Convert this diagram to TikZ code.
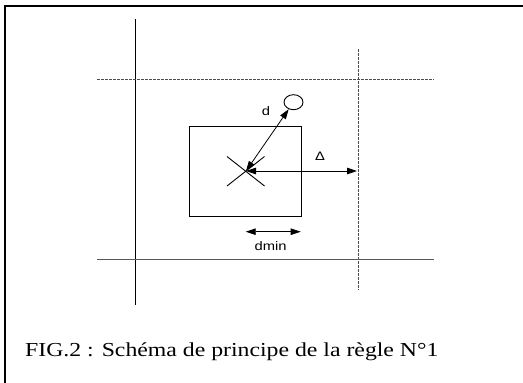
\documentclass[tikz,border=0pt]{standalone}
\usepackage{fontspec}
\setmainfont{Liberation Serif}
\newfontfamily\labfont{Liberation Sans}
\usetikzlibrary{arrows.meta,shapes.geometric}
\tikzset{
  thin line/.style={line width=0.9pt, black},
  dashline/.style={line width=1pt, black!70, dash pattern=on 3pt off 1pt},
  greyline/.style={line width=1pt, black!65},
  dimarrow/.style={line width=0.8pt, {Triangle[length=10pt,width=6.5pt]}-{Triangle[length=10pt,width=6.5pt]}},
  lab/.style={inner sep=0pt, font=\labfont\fontsize{12.3}{14}\selectfont},
}
\begin{document}
\begin{tikzpicture}[x=1pt,y=-1pt]
\useasboundingbox (0,0) rectangle (523,383);
% frame
\draw[line width=2pt] (5,383) -- (5,6) -- (523,6);
% grid lines
\coordinate (vtop) at (135,19);
\coordinate (vbot) at (135,305);
\draw[thin line] (vtop) -- (vbot);
\coordinate (htl) at (97,79);
\coordinate (htr) at (434,79);
\draw[dashline] (htl) -- (htr);
\coordinate (vdt) at (358.5,49);
\coordinate (vdb) at (358.5,290);
\draw[dashline] (vdt) -- (vdb);
\coordinate (hbl) at (97,259.5);
\coordinate (hbr) at (434,259.5);
\draw[greyline] (hbl) -- (hbr);
% box
\node[draw, thin line, minimum width=111.5pt, minimum height=90pt, inner sep=0pt] (box) at (245.25,171) {};
% cross
\coordinate (c) at (246,171);
\coordinate (x1) at (227,156.5);
\coordinate (x2) at (264.5,186);
\coordinate (x3) at (227,186);
\coordinate (x4) at (264.5,156.5);
\draw[thin line] (x1) -- (x2);
\draw[thin line] (x3) -- (x4);
% point
\node[draw, ellipse, thin line, minimum width=19pt, minimum height=15pt, inner sep=0pt] (pt) at (293.5,102.2) {};
% arrows
\draw[dimarrow] (c) -- (pt);
\coordinate (dr) at (357,171);
\draw[dimarrow] (c) -- (dr);
\coordinate (ml) at (245.7,231.7);
\coordinate (mr) at (300.7,231.7);
\draw[dimarrow] (ml) -- (mr);
% labels
\node[lab] (ld) at (266,111) {\scalebox{1.2}[1]{d}};
\node[lab] (lD) at (320,156) {\scalebox{1.2}[1]{Δ}};
\node[lab] (lm) at (270.7,245.7) {\scalebox{1.2}[1]{dmin}};
% caption
\node[anchor=base west, inner sep=0pt, font=\fontsize{19.8}{22}\selectfont] (cap) at (25,356) {\scalebox{1.2}[1]{FIG.2 : Schéma de principe de la règle N°1}};
\end{tikzpicture}
\end{document}
